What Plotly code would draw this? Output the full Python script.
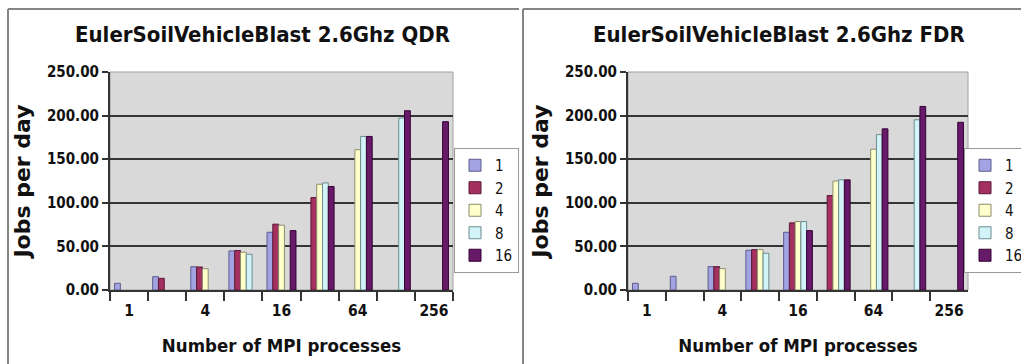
import plotly.graph_objects as go

categories = ["1", "2", "4", "8", "16", "32", "64", "128", "256"]
tick_labels = ["1", "", "4", "", "16", "", "64", "", "256"]
series_names = ["1", "2", "4", "8", "16"]

qdr_1 = [7.7, 15.3, 26.7, 44.8, 66.2, None, None, None, None]
qdr_2 = [None, 13.4, 26.4, 45.3, 75.5, 106.0, None, None, None]
qdr_4 = [None, None, 24.4, 43.3, 74.3, 121.3, 160.8, None, None]
qdr_8 = [None, None, None, 41.0, None, 122.8, 176.1, 197.2, None]
qdr_16 = [None, None, None, None, 68.1, 118.7, 176.1, 205.6, 193.0]

fdr_1 = [7.7, 15.7, 26.8, 45.6, 66.2, None, None, None, None]
fdr_2 = [None, None, 26.8, 46.3, 77.0, 108.3, None, None, None]
fdr_4 = [None, None, 24.5, 46.3, 78.5, 125.0, 161.5, None, None]
fdr_8 = [None, None, None, 42.1, 78.5, 126.3, 178.2, 195.2, None]
fdr_16 = [None, None, None, None, 68.1, 126.3, 184.8, 210.5, 192.3]

titles = ["EulerSoilVehicleBlast 2.6Ghz QDR", "EulerSoilVehicleBlast 2.6Ghz FDR"]
x_title = "Number of MPI processes"
y_title = "Jobs per day"

fills = ["#a3a3e3", "#a3305f", "#ffffcc", "#d2f4f8", "#661a68"]
edges = ["#5c5c8c", "#5a1838", "#8c8c6c", "#6c8c8e", "#360036"]

W, H = 1021, 364
FONT = "DejaVu Sans Condensed, DejaVu Sans"

fig = go.Figure()

panels = [
    ([qdr_1, qdr_2, qdr_4, qdr_8, qdr_16], "x", "y", "legend"),
    ([fdr_1, fdr_2, fdr_4, fdr_8, fdr_16], "x2", "y2", "legend2"),
]
for series, xa, ya, lg in panels:
    for name, vals, fc, ec in zip(series_names, series, fills, edges):
        fig.add_trace(go.Bar(
            x=categories, y=vals, name=name, xaxis=xa, yaxis=ya, legend=lg,
            marker=dict(color=fc, line=dict(color=ec, width=1)),
        ))

def px_x(p):
    return p / W

def px_y(p):
    return 1 - p / H

domains = [(110, 453), (628, 968)]
ydom = [px_y(290), px_y(72)]

axis_common_x = dict(
    type="category", categoryorder="array", categoryarray=categories,
    tickmode="array", tickvals=categories, ticktext=tick_labels, tickangle=0,
    tickson="boundaries", ticks="outside", ticklen=9, tickwidth=1.5, tickcolor="#333",
    ticklabelstandoff=5,
    showline=True, linecolor="#333", linewidth=2, automargin=False,
    tickfont=dict(family=FONT, size=15.5, color="#111", weight="bold"),
    title=dict(text=x_title, font=dict(family=FONT, size=18.5, color="#111", weight="bold"), standoff=20),
    showgrid=False, fixedrange=True,
)
axis_common_y = dict(
    range=[0, 250], tickmode="linear", tick0=0, dtick=50, tickformat=".2f",
    ticks="outside", ticklen=6, tickwidth=1.5, tickcolor="#333",
    showline=True, linecolor="#333", linewidth=2, automargin=False,
    showgrid=True, gridcolor="#353535", gridwidth=1.6, zeroline=False,
    tickfont=dict(family=FONT, size=15, color="#111", weight="bold"),
    title=dict(text=y_title, font=dict(family="DejaVu Sans", size=22, color="#111", weight="bold"), standoff=10),
    fixedrange=True,
)

legend_font = dict(family=FONT, size=15, color="#111")
fig.update_layout(
    width=W, height=H, margin=dict(l=0, r=0, t=0, b=0, autoexpand=False),
    paper_bgcolor="white", plot_bgcolor="#d9d9d9",
    barmode="group", bargap=0.24, bargroupgap=0,
    xaxis=dict(domain=[px_x(domains[0][0]), px_x(domains[0][1])], anchor="y", **axis_common_x),
    yaxis=dict(domain=ydom, anchor="x", **axis_common_y),
    xaxis2=dict(domain=[px_x(domains[1][0]), px_x(domains[1][1])], anchor="y2", **axis_common_x),
    yaxis2=dict(domain=ydom, anchor="x2", **axis_common_y),
    legend=dict(x=px_x(454), y=px_y(148), xanchor="left", yanchor="top",
                bgcolor="white", bordercolor="#999", borderwidth=1, font=legend_font),
    legend2=dict(x=px_x(964), y=px_y(148), xanchor="left", yanchor="top",
                 bgcolor="white", bordercolor="#999", borderwidth=1, font=legend_font),
    showlegend=True,
)

# panel titles
for cx, t in zip([262, 779], titles):
    fig.add_annotation(text=t, x=px_x(cx), y=px_y(34), xref="paper", yref="paper",
                       showarrow=False, xanchor="center", yanchor="middle",
                       font=dict(family=FONT, size=22, color="#111", weight="bold"))

# panel frames and plot-area outlines
line_col = "#858585"
for x0, x1 in [(8, 519), (523, 1021)]:
    fig.add_shape(type="line", xref="paper", yref="paper", x0=px_x(x0), x1=px_x(x1),
                  y0=px_y(9), y1=px_y(9), line=dict(color=line_col, width=2))
    fig.add_shape(type="line", xref="paper", yref="paper", x0=px_x(x0), x1=px_x(x0),
                  y0=px_y(9), y1=0, line=dict(color=line_col, width=2))
for xr, yr in [("x domain", "y domain"), ("x2 domain", "y2 domain")]:
    fig.add_shape(type="rect", xref=xr, yref=yr,
                  x0=0, x1=1, y0=0, y1=1, line=dict(color="#a0a0a0", width=1), layer="below")

fig.write_html("out.html")
